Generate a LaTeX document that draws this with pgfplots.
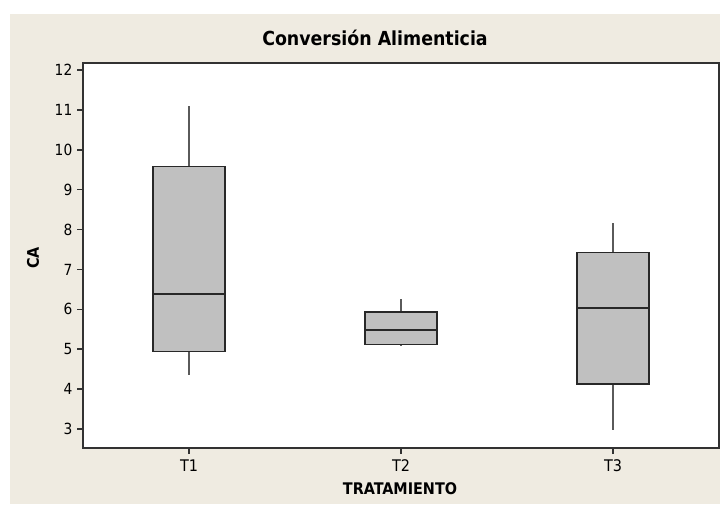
\documentclass[border=0pt]{standalone}
\usepackage{fontspec}
\setmainfont{DejaVu Sans Condensed}
\usepackage{pgfplots}
\pgfplotsset{compat=1.18}
\usepgfplotslibrary{statistics}
\definecolor{bgbeige}{RGB}{239,235,225}
\definecolor{boxgray}{RGB}{192,192,192}
\definecolor{boxline}{RGB}{40,40,40}
\definecolor{whiskergray}{RGB}{90,90,90}
\definecolor{axisline}{RGB}{50,50,50}
\begin{document}
\begin{tikzpicture}
\begin{scope}[x=0.75pt,y=-0.75pt]
\useasboundingbox (0,0) rectangle (720,504);
\fill[white] (0,0) rectangle (720,504);
\fill[bgbeige] (10,14) rectangle (720,504);
\coordinate (ll) at (83,448);
\node[font=\fontsize{14.5}{17}\selectfont\bfseries] at (375,38) {Conversión Alimenticia};
\node[font=\fontsize{12}{14}\selectfont\bfseries, rotate=90] at (33,258) {CA};
\node[font=\fontsize{12}{14}\selectfont\bfseries] at (400,489) {TRATAMIENTO};
\end{scope}
\begin{axis}[
  at={(ll)}, anchor=south west,
  scale only axis,
  width=477pt, height=288.75pt,
  xmin=0.5, xmax=3.5,
  ymin=2.52, ymax=12.18,
  xtick={1,2,3}, xticklabels={T1,T2,T3},
  ytick={3,4,5,6,7,8,9,10,11,12},
  tick align=outside,
  tick pos=left,
  major tick length=4.5pt,
  every tick/.style={axisline, line width=1.1pt},
  axis line style={axisline, line width=1.3pt},
  axis background/.style={fill=white},
  yticklabel style={font=\fontsize{11.5}{13}\selectfont},
  xticklabel style={font=\fontsize{12}{14}\selectfont, yshift=-1pt},
  /pgf/number format/assume math mode=true,
  boxplot/draw direction=y,
  boxplot/box extend=0.34,
  boxplot/whisker extend=0,
  boxplot/every whisker/.style={draw=whiskergray, line width=1.1pt},
  boxplot/every box/.style={draw=boxline, fill=boxgray, line width=1.1pt},
  boxplot/every median/.style={draw=boxline, line width=1.1pt},
]
\addplot[boxplot prepared={draw position=1, lower whisker=4.36, lower quartile=4.94, median=6.38, upper quartile=9.58, upper whisker=11.1}] coordinates {};
\addplot[boxplot prepared={draw position=2, lower whisker=5.07, lower quartile=5.12, median=5.48, upper quartile=5.93, upper whisker=6.25}] coordinates {};
\addplot[boxplot prepared={draw position=3, lower whisker=2.98, lower quartile=4.13, median=6.03, upper quartile=7.42, upper whisker=8.16}] coordinates {};
\end{axis}
\end{tikzpicture}
\end{document}
